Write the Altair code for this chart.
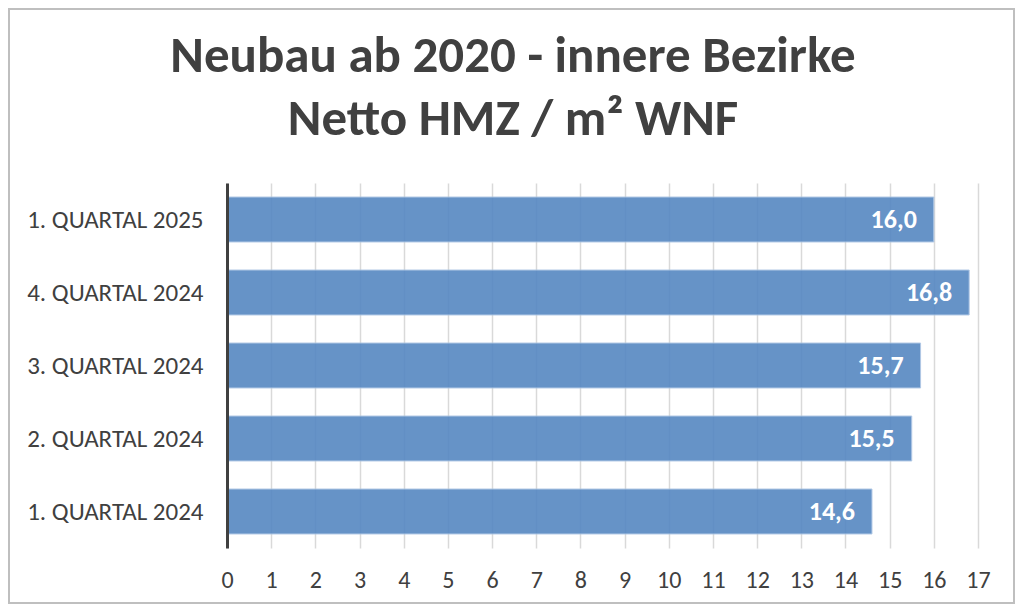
import altair as alt
import pandas as pd

categories = ["1. QUARTAL 2025", "4. QUARTAL 2024", "3. QUARTAL 2024",
              "2. QUARTAL 2024", "1. QUARTAL 2024"]
values = [16.0, 16.8, 15.7, 15.5, 14.6]
value_labels = ["16,0", "16,8", "15,7", "15,5", "14,6"]
title_line1 = "Neubau ab 2020 - innere Bezirke"
title_line2 = "Netto HMZ / m² WNF"
x_ticks = list(range(0, 18))

df = pd.DataFrame({"cat": categories, "val": values, "lab": value_labels})
one = pd.DataFrame({"a": [0]})

FONT = "Carlito, Lato, sans-serif"
TXT = "#404040"
W, H = 751, 365

y_enc = alt.Y(
    "cat:N", sort=categories,
    scale=alt.Scale(paddingInner=0.384, paddingOuter=0.192),
    axis=alt.Axis(title=None, labelFont=FONT, labelFontSize=25, labelColor=TXT,
                  labelPadding=24, ticks=False, domain=True, domainColor=TXT,
                  domainWidth=3, grid=False, zindex=1),
)
x_enc = alt.X(
    "val:Q",
    scale=alt.Scale(domain=[0, 17], nice=False, zero=True),
    axis=alt.Axis(title=None, values=x_ticks, labelFont=FONT, labelFontSize=24,
                  labelColor=TXT, labelPadding=20, ticks=False, domain=False,
                  grid=True, gridColor="#d9d9d9", gridWidth=1.5, labelFlush=False),
)

bars = alt.Chart(df).mark_bar(
    color="#5688c2", opacity=0.9, stroke="#a9c3e3", strokeWidth=1
).encode(x=x_enc, y=y_enc)

texts = alt.Chart(df).mark_text(
    align="right", baseline="middle", dx=-17, color="white",
    font=FONT, fontSize=26, fontWeight="bold"
).encode(x="val:Q", y=alt.Y("cat:N", sort=categories), text="lab:N")

t1 = alt.Chart(one).mark_text(
    align="center", baseline="alphabetic", font=FONT, fontSize=51,
    fontWeight="bold", color=TXT, text=title_line1
).encode(x=alt.value(286), y=alt.value(-111))

t2 = alt.Chart(one).mark_text(
    align="center", baseline="alphabetic", font=FONT, fontSize=51,
    fontWeight="bold", color=TXT, text=title_line2
).encode(x=alt.value(286), y=alt.value(-48))

frame = alt.Chart(one).mark_rect(
    fillOpacity=0, stroke="#bfbfbf", strokeWidth=2
).encode(x=alt.value(-218), x2=alt.value(787), y=alt.value(-174), y2=alt.value(420))

chart = alt.layer(bars, texts, t1, t2, frame).properties(
    width=W, height=H,
    padding={"left": 219, "top": 175, "right": 38, "bottom": 56},
    autosize=alt.AutoSizeParams(type="none"),
    background="white",
).configure_view(stroke=None)

chart.save("out.html", embed_options={"renderer": "svg", "actions": False})
